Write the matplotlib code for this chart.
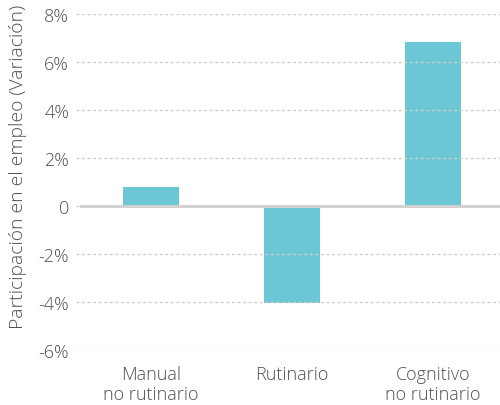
import matplotlib
matplotlib.use("Agg")
import matplotlib.pyplot as plt
from matplotlib.ticker import FuncFormatter

categories = ["Manual\nno rutinario", "Rutinario", "Cognitivo\nno rutinario"]
values = [0.81, -4.05, 6.85]
yticks = [-6, -4, -2, 0, 2, 4, 6, 8]

plt.rcParams['font.family'] = ['Open Sans', 'DejaVu Sans']

fig = plt.figure(figsize=(5.0, 4.06), dpi=100)
ax = fig.add_axes([0.152, 0.1355, 0.848, 0.8276])

x = list(range(len(categories)))
ax.bar(x, values, width=0.40, color="#6BC6D6", zorder=2)
ax.set_xlim(-0.53, 2.475)
ax.set_ylim(-6, 8)
ax.set_yticks(yticks)
ax.yaxis.set_major_formatter(FuncFormatter(lambda v, p: "0" if v == 0 else f"{v:.0f}%"))
for t in yticks:
    ax.axhline(t, color="#cccccc", lw=1.0, ls=(0, (2, 2)), zorder=3)
ax.axhline(0, color="#d2d2d2", lw=2.2, zorder=3, xmin=0.012)

ax.set_xticks(x)
ax.set_xticklabels(categories, fontsize=13, color="#505050", linespacing=1.1,
                   fontweight="light")
ax.tick_params(axis="y", labelsize=13, colors="#505050", length=0, pad=5)
for lab in ax.get_yticklabels():
    lab.set_fontweight("light")
ax.tick_params(axis="x", length=0, pad=11, colors="#505050")
for s in ax.spines.values():
    s.set_visible(False)
ax.set_ylabel("Participación en el empleo (Variación)", fontsize=13.9, color="#505050",
              labelpad=4, fontweight="light")
ax.yaxis.set_label_coords(-0.115, 0.548)

fig.savefig("out.png", dpi=100)
